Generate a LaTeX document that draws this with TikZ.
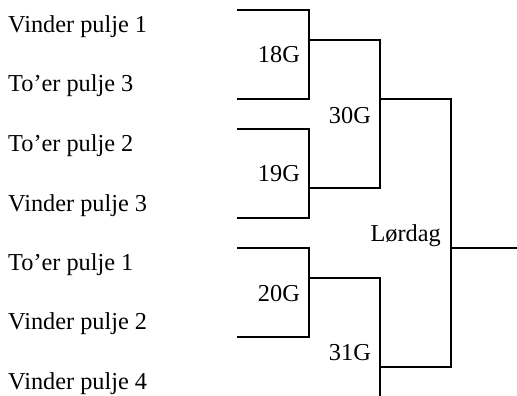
\documentclass[tikz,border=0pt]{standalone}
\usepackage{fontspec}
\setmainfont{Liberation Serif}
\begin{document}
\begin{tikzpicture}[x=1pt,y=-1pt,
  line/.style={draw=black,line width=1.4pt,line join=miter},
  team/.style={anchor=base west,inner sep=0pt,font=\fontsize{24.3}{28}\selectfont},
  game/.style={anchor=base east,inner sep=0pt,font=\fontsize{24.3}{28}\selectfont}]
\useasboundingbox (0,0) rectangle (517,396);
% teams
\node[team] (t1) at (8,33) {Vinder pulje 1};
\node[team] (t2) at (8,92) {To’er pulje 3};
\node[team] (t3) at (8,151) {To’er pulje 2};
\node[team] (t4) at (8,211) {Vinder pulje 3};
\node[team] (t5) at (8,270) {To’er pulje 1};
\node[team] (t6) at (8,329) {Vinder pulje 2};
\node[team] (t7) at (8,389) {Vinder pulje 4};
% bracket corners
\coordinate (a1) at (237,10);  \coordinate (a2) at (309,10);
\coordinate (a3) at (309,99);  \coordinate (a4) at (237,99);
\coordinate (b1) at (237,129); \coordinate (b2) at (309,129);
\coordinate (b3) at (309,218); \coordinate (b4) at (237,218);
\coordinate (c1) at (237,248); \coordinate (c2) at (309,248);
\coordinate (c3) at (309,337); \coordinate (c4) at (237,337);
\coordinate (d1) at (309,40);  \coordinate (d2) at (380,40);
\coordinate (d3) at (380,188); \coordinate (d4) at (309,188);
\coordinate (e1) at (309,278); \coordinate (e2) at (380,278);
\coordinate (e3) at (380,400);
\coordinate (f1) at (380,99);  \coordinate (f2) at (451,99);
\coordinate (f3) at (451,367); \coordinate (f4) at (380,367);
\coordinate (g1) at (451,248); \coordinate (g2) at (520,248);
\draw[line] (a1) -- (a2) -- (a3) -- (a4);
\draw[line] (b1) -- (b2) -- (b3) -- (b4);
\draw[line] (c1) -- (c2) -- (c3) -- (c4);
\draw[line] (d1) -- (d2) -- (d3) -- (d4);
\draw[line] (e1) -- (e2) -- (e3);
\draw[line] (f1) -- (f2) -- (f3) -- (f4);
\draw[line] (g1) -- (g2);
% game labels
\node[game] (g18) at (300,63) {18G};
\node[game] (g19) at (300,181) {19G};
\node[game] (g20) at (300,301) {20G};
\node[game] (g30) at (371,123) {30G};
\node[game] (g31) at (371,360) {31G};
\node[game] (lor) at (441,241.5) {Lørdag};
\end{tikzpicture}
\end{document}
